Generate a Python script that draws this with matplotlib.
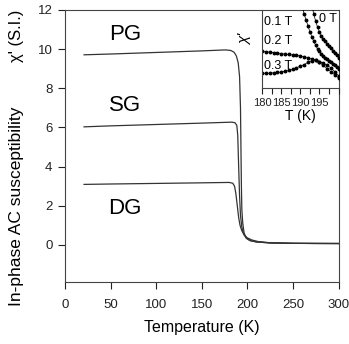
import matplotlib

matplotlib.use("Agg")

import matplotlib.pyplot as plt
from matplotlib.ticker import MultipleLocator

plt.rcParams["font.family"] = ["Liberation Sans", "DejaVu Sans"]

INK = "#222222"

# main panel: in-phase AC susceptibility vs temperature
pg_t = [21, 50, 100, 150, 176, 182, 185.5, 188, 190, 191.5, 192.5, 193, 193.5, 194,
        195, 196.5, 199, 203, 210, 225, 250, 275, 300]
pg_v = [9.71, 9.75, 9.83, 9.91, 9.96, 9.93, 9.84, 9.65, 9.3, 8.6, 7.0, 5.0, 3.0, 1.8,
        1.1, 0.6, 0.35, 0.22, 0.15, 0.10, 0.08, 0.07, 0.07]

sg_t = [21, 50, 100, 150, 183, 186.5, 188.5, 189.5, 190.5, 191.5, 192.5, 194, 196,
        199, 203, 210, 225, 250, 300]
sg_v = [6.03, 6.08, 6.15, 6.22, 6.27, 6.24, 6.1, 5.6, 4.0, 2.5, 1.5, 0.9, 0.55,
        0.33, 0.22, 0.15, 0.10, 0.08, 0.07]

dg_t = [21, 50, 100, 150, 180, 184, 186, 187.5, 189, 190.5, 192, 194, 197, 200, 205,
        212, 225, 250, 300]
dg_v = [3.09, 3.11, 3.14, 3.17, 3.19, 3.15, 3.0, 2.6, 2.0, 1.4, 1.0, 0.72, 0.48, 0.36,
        0.25, 0.17, 0.11, 0.08, 0.07]

labels = ["PG", "SG", "DG"]
label_pos = [(66, 10.75), (66, 7.1), (66, 1.85)]

# inset: chi' near the transition for several fields (arbitrary units)
f0_t = [193.2, 193.5, 194.0, 194.5, 195.0, 195.5, 196.0, 196.5, 197.0, 197.5, 198.0,
        198.5, 199.0, 199.5, 200.0]
f0_v = [1.02, 0.95, 0.86, 0.78, 0.72, 0.67, 0.63, 0.60, 0.57, 0.54, 0.51, 0.48, 0.45,
        0.42, 0.39]

f1_t = [190.6, 191.0, 191.5, 192.0, 192.5, 193.0, 193.5, 194.0, 194.5, 195.0, 195.5,
        196.0, 196.5, 197.0, 197.5, 198.0, 198.5, 199.0, 199.5, 200.0]
f1_v = [1.02, 0.95, 0.87, 0.80, 0.72, 0.66, 0.60, 0.55, 0.50, 0.47, 0.44, 0.41, 0.39,
        0.37, 0.35, 0.33, 0.31, 0.29, 0.27, 0.25]

f2_t = [180, 181, 182, 183, 184, 185, 186, 187, 188, 189, 190, 191, 192, 193, 194, 195,
        196, 197, 198, 199, 200]
f2_v = [0.47, 0.465, 0.46, 0.455, 0.45, 0.44, 0.435, 0.43, 0.425, 0.42, 0.41, 0.40,
        0.39, 0.375, 0.36, 0.33, 0.29, 0.25, 0.21, 0.17, 0.13]

f3_t = [180, 181, 182, 183, 184, 185, 186, 187, 188, 189, 190, 191, 192, 193, 194, 195,
        196, 197, 198, 199, 200]
f3_v = [0.19, 0.19, 0.19, 0.195, 0.20, 0.205, 0.215, 0.225, 0.24, 0.26, 0.28, 0.30,
        0.33, 0.35, 0.36, 0.34, 0.32, 0.29, 0.26, 0.21, 0.16]

field_labels = ["0 T", "0.1 T", "0.2 T", "0.3 T"]
field_pos = [(195.0, 0.88), (180.4, 0.85), (180.4, 0.60), (180.4, 0.28)]

fig = plt.figure(figsize=(3.49, 3.44), dpi=100)
ax = fig.add_axes([0.186, 0.180, 0.784, 0.791])

for t, v in [(pg_t, pg_v), (sg_t, sg_v), (dg_t, dg_v)]:
    ax.plot(t, v, color="#333333", linewidth=0.9)
for name, (x, y) in zip(labels, label_pos):
    ax.text(x, y, name, fontsize=16, color="black", ha="center", va="center")

ax.set_xlim(0, 300)
ax.set_ylim(-1.9, 12)
ax.xaxis.set_major_locator(MultipleLocator(50))
ax.set_yticks([0, 2, 4, 6, 8, 10, 12])
ax.tick_params(direction="out", length=5, width=0.8, labelsize=9.5, colors=INK, pad=4)
ax.tick_params(axis="x", pad=7)
for sp in ax.spines.values():
    sp.set_color("#444444")
    sp.set_linewidth(0.8)
ax.set_xlabel("Temperature (K)", fontsize=11.5, color="black", labelpad=7)

fig.text(0.047, 0.40, "In-phase AC susceptibility", rotation=90, fontsize=12.5,
         ha="center", va="center", color="black")
fig.text(0.047, 0.895, "χ' (S.I.)", rotation=90, fontsize=12,
         ha="center", va="center", color="black")

# inset
ins = fig.add_axes([0.751, 0.744, 0.219, 0.227])
ins.patch.set_alpha(0)
for t, v in [(f0_t, f0_v), (f1_t, f1_v), (f2_t, f2_v), (f3_t, f3_v)]:
    ins.plot(t, v, color="black", linewidth=0.5, marker="o", markersize=1.8)
for name, (x, y) in zip(field_labels, field_pos):
    ins.text(x, y, name, fontsize=9, ha="left", va="center", color="black",
             bbox=dict(facecolor="white", edgecolor="none", pad=0.3) if name == "0 T" else None)
ins.set_xlim(180, 200)
ins.set_ylim(0, 1)
ins.set_xticks([180, 185, 190, 195])
ins.xaxis.set_minor_locator(MultipleLocator(2.5))
ins.set_yticks([])
ins.spines["top"].set_visible(False)
ins.spines["right"].set_visible(False)
for sp in ("left", "bottom"):
    ins.spines[sp].set_color("#444444")
    ins.spines[sp].set_linewidth(0.8)
ins.tick_params(axis="x", which="both", direction="out", length=4, width=0.8,
                labelsize=8, colors=INK, pad=3)
ins.set_xlabel("T (K)", fontsize=10, labelpad=1)
fig.text(0.702, 0.885, "χ'", rotation=90, fontsize=11, ha="center", va="center",
         style="italic")

fig.savefig("out.png", dpi=100)
